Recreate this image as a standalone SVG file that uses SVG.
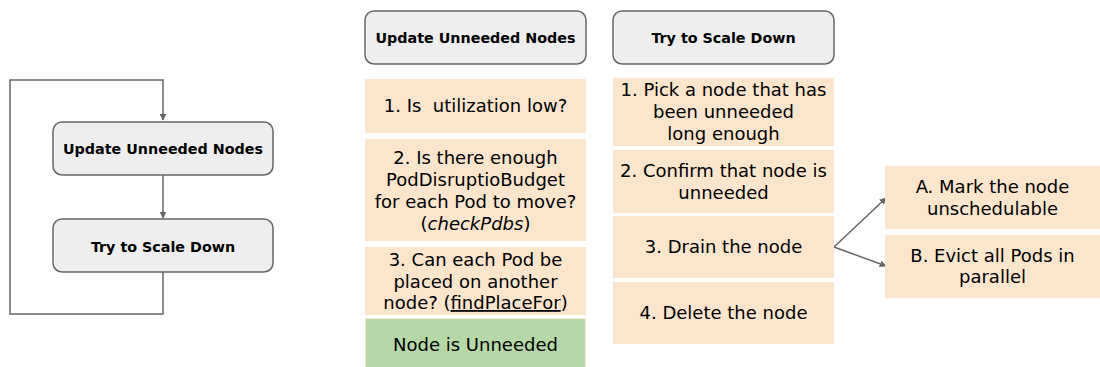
<svg xmlns="http://www.w3.org/2000/svg" width="1100" height="367" viewBox="0 0 1100 367">
<defs>
<style>
.hdr{fill:#eeeeee;stroke:#666666;stroke-width:1.5}
.box{fill:#fce5cd}
.grn{fill:#b6d7a8;stroke:#fce5cd;stroke-width:1}
.ht{font-family:"DejaVu Sans","Noto Sans",sans-serif;font-weight:bold;font-size:14.3px;fill:#000;text-anchor:middle}
.bt{font-family:"DejaVu Sans","Noto Sans",sans-serif;font-size:18px;fill:#000;text-anchor:middle}
.ln{fill:none;stroke:#666666;stroke-width:1.5}
</style>
<marker id="ah" viewBox="0 0 10 10" refX="9" refY="5" markerWidth="7" markerHeight="7" markerUnits="userSpaceOnUse" orient="auto">
<path d="M0,0 L10,5 L0,10 z" fill="#666666"/>
</marker>
</defs>
<g id="connectors">
<path class="ln" d="M163,272 V314 H10 V80 H163 V120" marker-end="url(#ah)"/>
<path class="ln" d="M163,175 V218" marker-end="url(#ah)"/>
<path class="ln" d="M834,247 L886,198" marker-end="url(#ah)"/>
<path class="ln" d="M834,247 L886,266" marker-end="url(#ah)"/>
</g>
<g id="loop-update">
<rect class="hdr" x="53" y="122" width="220" height="53" rx="9"/>
<text class="ht" x="163" y="154">Update Unneeded Nodes</text>
</g>
<g id="loop-scale">
<rect class="hdr" x="53" y="219" width="220" height="53" rx="9"/>
<text class="ht" x="163" y="252">Try to Scale Down</text>
</g>
<g id="hdr-update">
<rect class="hdr" x="365" y="11" width="221" height="53" rx="9"/>
<text class="ht" x="475.5" y="43">Update Unneeded Nodes</text>
</g>
<g id="u1">
<rect class="box" x="365" y="79" width="221" height="54"/>
<text class="bt" x="475.5" y="112">1. Is&#160; utilization low?</text>
</g>
<g id="u2">
<rect class="box" x="365" y="139" width="221" height="102"/>
<text class="bt" x="475.5" y="164">2. Is there enough</text>
<text class="bt" x="475.5" y="186">PodDisruptioBudget</text>
<text class="bt" x="475.5" y="208">for each Pod to move?</text>
<text class="bt" x="475.5" y="230">(<tspan font-style="italic">checkPdbs</tspan>)</text>
</g>
<g id="u3">
<rect class="box" x="365" y="247" width="221" height="68"/>
<text class="bt" x="475.5" y="266">3. Can each Pod be</text>
<text class="bt" x="475.5" y="288">placed on another</text>
<text class="bt" x="475.5" y="309">node? (<tspan text-decoration="underline">findPlaceFor</tspan>)</text>
</g>
<g id="u4">
<rect class="grn" x="365.5" y="318.5" width="220" height="52"/>
<text class="bt" x="475.5" y="351">Node is Unneeded</text>
</g>
<g id="hdr-scale">
<rect class="hdr" x="613" y="11" width="221" height="53" rx="9"/>
<text class="ht" x="723.5" y="43">Try to Scale Down</text>
</g>
<g id="s1">
<rect class="box" x="613" y="78" width="221" height="68"/>
<text class="bt" x="723.5" y="96">1. Pick a node that has</text>
<text class="bt" x="723.5" y="118">been unneeded</text>
<text class="bt" x="723.5" y="140">long enough</text>
</g>
<g id="s2">
<rect class="box" x="613" y="150" width="221" height="63"/>
<text class="bt" x="723.5" y="177">2. Confirm that node is</text>
<text class="bt" x="723.5" y="199">unneeded</text>
</g>
<g id="s3">
<rect class="box" x="613" y="216" width="221" height="62"/>
<text class="bt" x="723.5" y="253">3. Drain the node</text>
</g>
<g id="s4">
<rect class="box" x="613" y="282" width="221" height="62"/>
<text class="bt" x="723.5" y="319">4. Delete the node</text>
</g>
<g id="dA">
<rect class="box" x="885" y="166" width="215" height="63"/>
<text class="bt" x="992.5" y="193">A. Mark the node</text>
<text class="bt" x="992.5" y="215">unschedulable</text>
</g>
<g id="dB">
<rect class="box" x="885" y="235" width="215" height="63"/>
<text class="bt" x="992.5" y="262">B. Evict all Pods in</text>
<text class="bt" x="992.5" y="283">parallel</text>
</g>
</svg>
